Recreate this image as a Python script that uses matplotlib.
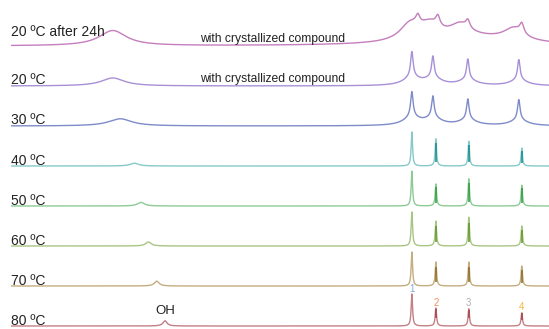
import numpy as np
import matplotlib.pyplot as plt

plt.rcParams['font.family'] = ['Liberation Sans', 'DejaVu Sans']

# spectra from bottom to top
labels = ["80 ºC", "70 ºC", "60 ºC", "50 ºC", "40 ºC", "30 ºC", "20 ºC", "20 ºC after 24h"]
label_lift = [0.03, 0.03, 0.03, 0.03, 0.03, 0.05, 0.05, 0.26]
colors = ["#c48085", "#c4ad80", "#a9c583", "#8ccb95", "#86c9c9", "#7f8bc9", "#a890d8", "#c47ebd"]
dark = ["#a8404c", "#8a6a20", "#5e9424", "#2a9a3a", "#138a8a", "#5a68b8", "#8a6cc8", "#b05aa8"]

# OH signal (ppm, height, half width)
oh_shift = [4.64, 4.74, 4.84, 4.93, 5.01, 5.18, 5.27, 5.27]
oh_height = [0.13, 0.12, 0.10, 0.09, 0.07, 0.18, 0.20, 0.38]
oh_width = [0.03, 0.035, 0.04, 0.05, 0.06, 0.17, 0.17, 0.2]

# ring signals 1-4 (ppm)
ring_shift = [
    [1.657, 1.367, 0.969, 0.329],
    [1.657, 1.367, 0.969, 0.329],
    [1.657, 1.367, 0.969, 0.329],
    [1.657, 1.367, 0.969, 0.329],
    [1.657, 1.367, 0.969, 0.329],
    [1.657, 1.403, 0.981, 0.365],
    [1.657, 1.403, 0.981, 0.365],
    [1.585, 1.343, 0.981, 0.329],
]
ring_height = [
    [0.80, 0.45, 0.43, 0.33],
    [0.85, 0.60, 0.60, 0.50],
    [0.85, 0.62, 0.72, 0.50],
    [0.87, 0.55, 0.68, 0.52],
    [0.85, 0.68, 0.62, 0.45],
    [0.62, 0.52, 0.50, 0.50],
    [0.62, 0.52, 0.50, 0.50],
    [0.22, 0.25, 0.20, 0.25],
]
ring_width = [0.01, 0.01, 0.01, 0.01, 0.01, 0.018, 0.018, 0.03]

# broad base under each ring signal (height, half width, shift to the left)
base_height = [
    [0, 0, 0, 0], [0, 0, 0, 0], [0, 0, 0, 0], [0, 0, 0, 0], [0, 0, 0, 0],
    [0.20, 0.18, 0.15, 0.15],
    [0.20, 0.18, 0.15, 0.15],
    [0.40, 0.35, 0.30, 0.30],
]
base_width = [0, 0, 0, 0, 0, 0.12, 0.12, 0.145]
base_shift = [0, 0, 0, 0, 0, 0, 0, 0.097]

# envelope of the crystallized sample after 24h
env_shift = 0.957
env_height = 0.20
env_width = 0.725

# darker multiplet core of signals 2-4 (fraction of peak height)
core_lo = [0.45, 0.15, 0.15, 0.15, 0.15]
core_hi = [0.95, 0.80, 0.80, 0.85, 0.85]

peak_labels = ["1", "2", "3", "4"]
peak_label_colors = ["#7fa6de", "#f2905e", "#b0b0b0", "#f2b83a"]


def lor(x, x0, h, w):
    return h * w**2 / ((x - x0)**2 + w**2)


ppm = np.linspace(6.5, 0.0, 16000)

fig = plt.figure(figsize=(5.49, 3.29), dpi=100)
ax = fig.add_axes([11 / 549, 0, 1 - 11 / 549, 1])
ax.set_xlim(6.5, 0.0)
ax.set_ylim(-0.075, 8.15)
ax.axis('off')

for i in range(len(labels)):
    y = lor(ppm, oh_shift[i], oh_height[i], oh_width[i])
    for k in range(4):
        y = y + lor(ppm, ring_shift[i][k], ring_height[i][k], ring_width[i])
        if base_height[i][k] > 0:
            y = y + lor(ppm, ring_shift[i][k] + base_shift[i], base_height[i][k], base_width[i])
    if i == 7:
        y = y + lor(ppm, env_shift, env_height, env_width)
    ax.plot(ppm, y + i, color=colors[i], lw=1.0)
    if i < 5:
        for k in range(1, 4):
            h = ring_height[i][k]
            ax.vlines(ring_shift[i][k], i + core_lo[i] * h, i + core_hi[i] * h,
                      color=dark[i], lw=1.3, alpha=0.85)
    ax.text(6.5, i + label_lift[i], labels[i], ha='left', va='baseline', fontsize=10, color='#222222')

ax.text(4.22, 7.1, "with crystallized compound", va='baseline', fontsize=8.7, color='#222222')
ax.text(4.22, 6.1, "with crystallized compound", va='baseline', fontsize=8.7, color='#222222')
ax.text(oh_shift[0], 0.22, "OH", ha='center', va='bottom', fontsize=9.5, color='#222222')

for k in range(4):
    ax.text(ring_shift[0][k], ring_height[0][k] + 0.01, peak_labels[k], ha='center', va='bottom',
            fontsize=7, color=peak_label_colors[k])

fig.savefig('out.png', dpi=100)
